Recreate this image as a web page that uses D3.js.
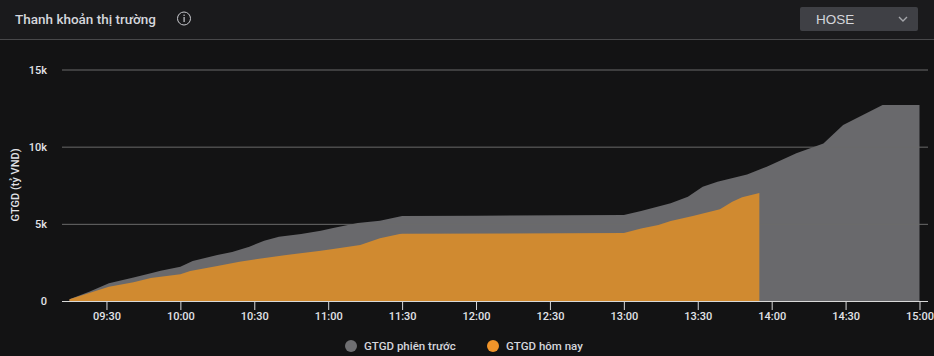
<!DOCTYPE html>
<html lang="en">
<head>
<meta charset="utf-8">
<title>Thanh khoản thị trường</title>
<script src="https://d3js.org/d3.v7.min.js"></script>
<style>
  html, body { margin: 0; padding: 0; background: #131314; overflow: hidden; }
  svg { display: block; font-family: Roboto, sans-serif; }
</style>
</head>
<body>
<div id="chart"></div>
<script>
// values
var prevTimes = ["09:15","09:23","09:31","09:41","09:48","09:52","10:00","10:05","10:15","10:21","10:28","10:34","10:40","10:49","10:57","11:02","11:12","11:21","11:30","12:00","13:00","13:07","13:19","13:26","13:32","13:38","13:50","13:58","14:10","14:21","14:29","14:33","14:45","15:00"];
var prevValues = [110,600,1150,1530,1790,1960,2220,2590,2980,3170,3520,3900,4160,4340,4550,4730,5050,5200,5500,5525,5570,5830,6330,6750,7400,7730,8200,8700,9570,10210,11400,11720,12700,12700];
var todayTimes = ["09:15","09:23","09:31","09:41","09:48","10:00","10:04","10:15","10:24","10:32","10:43","10:57","11:02","11:13","11:21","11:29","11:30","13:00","13:07","13:14","13:19","13:28","13:39","13:44","13:48","13:55"];
var todayValues = [110,520,930,1210,1490,1730,1940,2270,2550,2740,2980,3260,3370,3630,4060,4340,4360,4400,4700,4920,5180,5500,5940,6430,6720,7000];
var yTicks = [0, 5000, 10000, 15000];
var xTickLabels = ["09:30","10:00","10:30","11:00","11:30","12:00","12:30","13:00","13:30","14:00","14:30","15:00"];
var legendNames = ["GTGD phiên trước", "GTGD hôm nay"];

var width = 934, height = 356;
var gridLeft = 62, gridRight = 928;
var parseTime = d3.timeParse("%H:%M");
var fmtTime = d3.timeFormat("%H:%M");

var svg = d3.select("#chart").append("svg")
    .attr("width", width)
    .attr("height", height);

// header
svg.append("rect").attr("width", width).attr("height", 39).attr("fill", "#1a1a1c");
svg.append("rect").attr("y", 39).attr("width", width).attr("height", 1).attr("fill", "#48484a");

svg.append("text")
    .attr("x", 15).attr("y", 24)
    .attr("fill", "#d5d6dc")
    .style("font-size", "13.5px").style("font-weight", 500)
    .text("Thanh khoản thị trường");

// info icon
svg.append("circle").attr("cx", 184).attr("cy", 18.5).attr("r", 6.5)
    .attr("fill", "none").attr("stroke", "#c8c9ce").attr("stroke-width", 1);
svg.append("rect").attr("x", 183.5).attr("y", 17).attr("width", 1.2).attr("height", 5).attr("fill", "#c8c9ce");
svg.append("rect").attr("x", 183.5).attr("y", 14.6).attr("width", 1.2).attr("height", 1.3).attr("fill", "#c8c9ce");

// dropdown
svg.append("rect").attr("x", 800).attr("y", 7).attr("width", 118).attr("height", 24).attr("rx", 2).attr("fill", "#3f4045");
svg.append("text")
    .attr("x", 816).attr("y", 24)
    .attr("fill", "#d5d6dc")
    .style("font-family", "'Liberation Sans', Arial, sans-serif").style("font-size", "13.5px")
    .text("HOSE");
svg.append("path").attr("d", "M899 17l4 4l4 -4")
    .attr("fill", "none").attr("stroke", "#a5a6ab").attr("stroke-width", 1.4);

// scales
var x = d3.scaleTime().domain([parseTime("09:15"), parseTime("15:00")]).range([69.5, 919.5]);
var y = d3.scaleLinear().domain([0, 15000]).range([301, 69.5]);

function series(times, values) {
    return times.map(function(t, i) { return { t: parseTime(t), v: values[i] }; });
}
var area = d3.area()
    .x(function(d) { return x(d.t); })
    .y0(y(0))
    .y1(function(d) { return y(d.v); });

svg.append("path").datum(series(prevTimes, prevValues)).attr("d", area).attr("fill", "#69696c");

// y axis and grid
var yAxis = svg.append("g")
    .attr("transform", "translate(" + gridLeft + ",0)")
    .call(d3.axisLeft(y).tickValues(yTicks)
        .tickSize(-(gridRight - gridLeft))
        .tickPadding(15)
        .tickFormat(function(d) { return d === 0 ? "0" : d / 1000 + "k"; }));
yAxis.select(".domain").remove();
yAxis.selectAll("line").attr("stroke", function(d) { return d === 0 ? "none" : "#6a6a6a"; });
yAxis.selectAll("text").attr("fill", "#e2e3e8")
    .style("font-size", "11px").style("font-weight", 500).style("font-family", "Roboto, sans-serif");

svg.append("path").datum(series(todayTimes, todayValues)).attr("d", area).attr("fill", "#d08a30");

// x axis
var xAxis = svg.append("g")
    .attr("transform", "translate(0," + y(0) + ")")
    .call(d3.axisBottom(x).tickValues(xTickLabels.map(parseTime))
        .tickSize(9).tickPadding(2).tickFormat(fmtTime));
xAxis.select(".domain").remove();
xAxis.selectAll("line").attr("stroke", "#d8d8d8");
xAxis.selectAll("text").attr("fill", "#e2e3e8")
    .style("font-size", "11px").style("font-weight", 500).style("font-family", "Roboto, sans-serif");
svg.append("line")
    .attr("x1", gridLeft).attr("x2", gridRight)
    .attr("y1", y(0) + 0.5).attr("y2", y(0) + 0.5)
    .attr("stroke", "#d8d8d8");

// y title
svg.append("text")
    .attr("transform", "translate(19,185) rotate(-90)")
    .attr("text-anchor", "middle")
    .attr("fill", "#e2e3e8")
    .style("font-size", "11px").style("font-weight", 500)
    .text("GTGD (tỷ VND)");

// legend
var legendX = [351, 493], legendColors = ["#6f6f72", "#f0942a"];
legendNames.forEach(function(name, i) {
    svg.append("circle").attr("cx", legendX[i]).attr("cy", 346).attr("r", 6).attr("fill", legendColors[i]);
    svg.append("text")
        .attr("x", legendX[i] + 13).attr("y", 350)
        .attr("fill", "#d5d6dc")
        .style("font-size", "11.5px").style("font-weight", 500)
        .text(name);
});
</script>
</body>
</html>
